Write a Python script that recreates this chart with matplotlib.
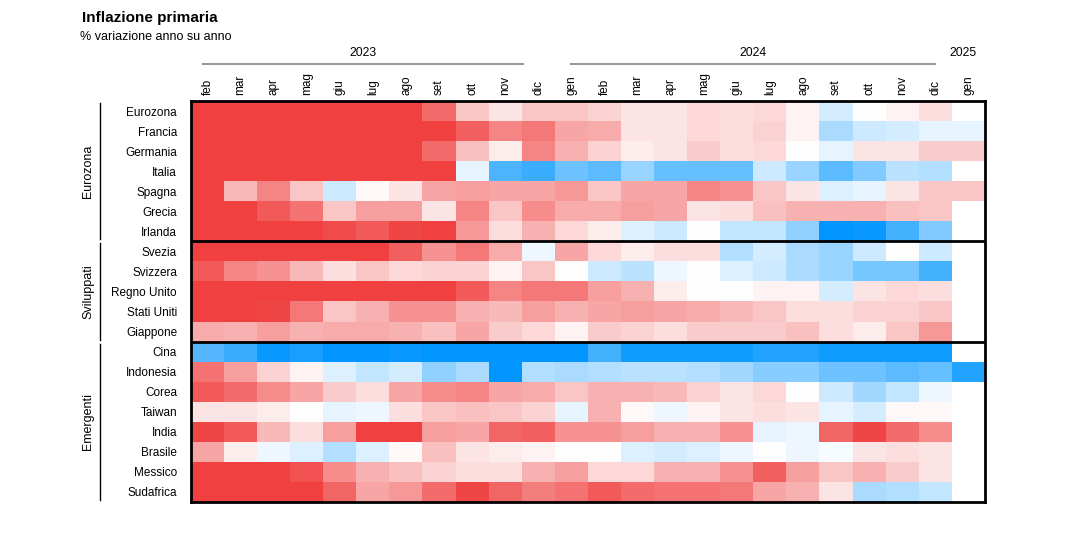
import numpy as np
import matplotlib
matplotlib.use("Agg")
import matplotlib.pyplot as plt
from matplotlib.colors import LinearSegmentedColormap
from matplotlib.transforms import blended_transform_factory

plt.rcParams['font.family'] = ['Liberation Sans', 'DejaVu Sans']

nan = np.nan

months = ['feb', 'mar', 'apr', 'mag', 'giu', 'lug', 'ago', 'set', 'ott', 'nov', 'dic',
          'gen', 'feb', 'mar', 'apr', 'mag', 'giu', 'lug', 'ago', 'set', 'ott', 'nov', 'dic',
          'gen']
years = ['2023', '2024', '2025']

countries = ['Eurozona', 'Francia', 'Germania', 'Italia', 'Spagna', 'Grecia', 'Irlanda',
             'Svezia', 'Svizzera', 'Regno Unito', 'Stati Uniti', 'Giappone',
             'Cina', 'Indonesia', 'Corea', 'Taiwan', 'India', 'Brasile', 'Messico', 'Sudafrica']
groups = ['Eurozona', 'Sviluppati', 'Emergenti']
group_sizes = [7, 5, 8]

# colour scale value (deviation, clipped at +-3)
eurozona = [3, 3, 3, 3, 3, 3, 3, 2.3, 0.9, 0.4, 0.9, 0.9, 0.7, 0.4, 0.4, 0.6, 0.5, 0.6, 0.2, -0.5, 0.0, 0.2, 0.5, nan]
francia = [3, 3, 3, 3, 3, 3, 3, 3, 2.5, 1.9, 2.1, 1.4, 1.3, 0.4, 0.4, 0.6, 0.5, 0.7, 0.2, -1.0, -0.6, -0.5, -0.3, -0.3]
germania = [3, 3, 3, 3, 3, 3, 3, 2.3, 1.0, 0.3, 1.9, 1.2, 0.7, 0.3, 0.4, 0.8, 0.5, 0.6, 0.0, -0.3, 0.4, 0.4, 0.8, 0.8]
italia = [3, 3, 3, 3, 3, 3, 3, 3, -0.3, -2.1, -2.3, -1.7, -1.9, -1.2, -1.8, -1.8, -1.8, -0.6, -1.2, -1.9, -1.5, -0.8, -0.9, nan]
spagna = [3, 1.1, 1.9, 0.9, -0.6, 0.1, 0.4, 1.4, 1.5, 1.4, 1.4, 1.6, 0.9, 1.4, 1.4, 1.9, 1.7, 0.9, 0.4, -0.4, -0.3, 0.4, 0.9, 0.9]
grecia = [3, 3, 2.6, 2.2, 0.9, 1.5, 1.5, 0.4, 1.9, 0.9, 1.8, 1.3, 1.3, 1.5, 1.4, 0.4, 0.5, 1.0, 1.2, 1.2, 1.2, 1.0, 0.9, nan]
irlanda = [3, 3, 3, 3, 2.8, 2.6, 2.9, 3, 1.6, 0.5, 1.2, 0.6, 0.3, -0.4, -0.6, 0.0, -0.7, -0.7, -1.3, -3, -2.9, -2.2, -1.5, nan]
svezia = [3, 3, 3, 3, 3, 3, 2.5, 1.7, 2.1, 1.3, -0.2, 1.4, 0.6, 0.3, 0.5, 0.5, -0.9, -0.5, -1.0, -1.2, -0.6, 0.0, -0.6, nan]
svizzera = [2.6, 1.9, 1.7, 1.1, 0.5, 0.9, 0.6, 0.7, 0.7, 0.2, 0.9, 0.0, -0.6, -0.8, -0.2, 0.0, -0.4, -0.6, -1.0, -1.2, -1.6, -1.6, -2.2, nan]
regno_unito = [3, 3, 3, 3, 3, 3, 3, 3, 2.6, 1.9, 2.1, 2.1, 1.5, 1.2, 0.3, 0.0, 0.0, 0.2, 0.2, -0.5, 0.4, 0.6, 0.5, nan]
stati_uniti = [3, 3, 2.9, 2.1, 0.9, 1.2, 1.7, 1.7, 1.2, 1.1, 1.5, 1.2, 1.4, 1.5, 1.4, 1.3, 1.1, 0.9, 0.5, 0.5, 0.7, 0.7, 0.9, nan]
giappone = [1.3, 1.2, 1.5, 1.2, 1.3, 1.3, 1.2, 1.0, 1.4, 0.8, 0.6, 0.2, 0.8, 0.7, 0.5, 0.8, 0.8, 0.8, 1.0, 0.5, 0.3, 0.9, 1.6, nan]
cina = [-2.0, -2.3, -2.9, -2.7, -3, -3, -2.9, -3, -3, -3, -3, -3, -2.2, -2.8, -2.8, -2.8, -2.8, -2.6, -2.6, -2.8, -2.8, -2.8, -2.8, nan]
indonesia = [2.2, 1.5, 0.7, 0.2, -0.4, -0.7, -0.5, -1.3, -1.0, -3, -0.9, -1.0, -0.9, -0.8, -0.8, -0.9, -1.1, -1.4, -1.4, -1.7, -1.7, -1.9, -1.8, -2.6]
corea = [2.6, 2.3, 1.8, 1.4, 0.8, 0.5, 1.4, 1.8, 1.9, 1.4, 1.3, 0.9, 1.2, 1.2, 1.1, 0.7, 0.4, 0.6, 0.0, -0.6, -1.1, -0.7, -0.2, nan]
taiwan = [0.4, 0.4, 0.3, 0.0, -0.3, -0.2, 0.5, 0.9, 1.0, 0.9, 0.7, -0.3, 1.2, 0.1, -0.2, 0.2, 0.4, 0.5, 0.4, -0.3, -0.5, 0.1, 0.1, nan]
india = [2.9, 2.6, 1.1, 0.5, 1.5, 3, 3, 1.5, 1.4, 2.4, 2.5, 1.7, 1.7, 1.5, 1.2, 1.2, 1.7, -0.3, -0.2, 2.4, 2.9, 2.3, 1.8, nan]
brasile = [1.4, 0.3, -0.2, -0.4, -0.9, -0.4, 0.1, 1.0, 0.4, 0.3, 0.2, 0.0, 0.0, -0.4, -0.5, -0.4, -0.2, 0.0, -0.2, -0.1, 0.4, 0.5, 0.4, nan]
messico = [3, 3, 3, 2.7, 1.8, 1.2, 1.0, 0.7, 0.5, 0.5, 1.2, 1.5, 0.6, 0.6, 1.2, 1.2, 1.7, 2.5, 1.5, 0.9, 1.2, 0.8, 0.4, nan]
sudafrica = [3, 3, 3, 3, 2.4, 1.4, 1.6, 2.3, 2.9, 2.4, 2.0, 2.2, 2.6, 2.3, 2.2, 2.2, 2.1, 1.4, 1.2, 0.4, -1.0, -0.9, -0.7, nan]

data = np.array([eurozona, francia, germania, italia, spagna, grecia, irlanda,
                 svezia, svizzera, regno_unito, stati_uniti, giappone,
                 cina, indonesia, corea, taiwan, india, brasile, messico, sudafrica])

cmap = LinearSegmentedColormap.from_list('infl', ['#0095FF', '#FFFFFF', '#F04040'])
cmap.set_bad('white')

fig = plt.figure(figsize=(10.8, 5.39), dpi=100)
ax = fig.add_axes([191 / 1080, 1 - 502 / 539, 794 / 1080, 401 / 539])
ax.imshow(np.ma.masked_invalid(data), cmap=cmap, vmin=-3, vmax=3,
          aspect='auto', interpolation='nearest')

for s in ax.spines.values():
    s.set_linewidth(2)
    s.set_color('black')

# separators between groups
edges = np.cumsum(group_sizes)
for e in edges[:-1]:
    ax.axhline(e - 0.5, color='black', lw=2)

ax.xaxis.tick_top()
ax.set_xticks(range(len(months)))
ax.set_xticklabels(months, rotation=90, fontsize=8.5)
ax.set_yticks(range(len(countries)))
ax.set_yticklabels(countries, fontsize=8.5)
ax.tick_params(axis='x', length=0, pad=4)
ax.tick_params(axis='y', length=0, pad=10)

# year headers
tr_year = blended_transform_factory(ax.transData, fig.transFigure)
year_spans = [(-0.14, 9.54), (11.0, 22.0), None]
year_pos = [4.7, 16.5, 22.85]
for yr, span, xp in zip(years, year_spans, year_pos):
    fig.text(xp, 1 - 53 / 539, yr, transform=tr_year, ha='center', va='center', fontsize=8.8)
    if span is not None:
        ax.plot(span, [1 - 64 / 539] * 2, transform=tr_year, color='#999999',
                lw=1.5, clip_on=False)

# group brackets on the left
tr_grp = blended_transform_factory(fig.transFigure, ax.transData)
start = -0.5
for g, n in zip(groups, group_sizes):
    end = start + n
    ax.plot([100 / 1080] * 2, [start + 0.1, end - 0.1], transform=tr_grp,
            color='black', lw=1, clip_on=False)
    fig.text(88 / 1080, (start + end) / 2, g, transform=tr_grp, rotation=90,
             ha='center', va='center', fontsize=9)
    start = end

fig.text(82 / 1080, 1 - 18 / 539, 'Inflazione primaria', fontsize=11,
         fontweight='bold', va='center', ha='left')
fig.text(80 / 1080, 1 - 37 / 539, '% variazione anno su anno', fontsize=9,
         va='center', ha='left')

fig.savefig('out.png', dpi=100)
